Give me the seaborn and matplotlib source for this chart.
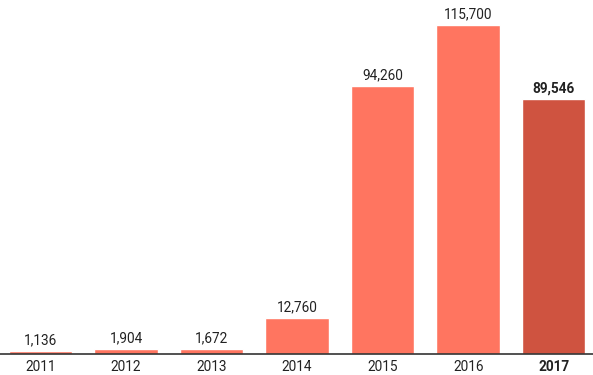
import matplotlib
matplotlib.use("Agg")
import matplotlib.pyplot as plt
import seaborn as sns
import pandas as pd

years = ["2011", "2012", "2013", "2014", "2015", "2016", "2017"]
values = [1136, 1904, 1672, 12760, 94260, 115700, 89546]
light = "#FF7560"
dark = "#CF5340"
colors = [light] * 6 + [dark]

sns.set_style("white")
plt.rcParams['font.family'] = ['Roboto', 'DejaVu Sans']

df = pd.DataFrame({"year": years, "value": values})

fig = plt.figure(figsize=(5.93, 3.75), dpi=100)
ax = fig.add_axes([0, 21 / 375, 1, 354 / 375])
sns.barplot(data=df, x="year", y="value", hue="year", palette=colors,
            legend=False, width=0.74, ax=ax, saturation=1)

ax.set_xlim(-0.474, 6.46)
ax.set_ylim(0, 124500)
for s in ["top", "right", "left"]:
    ax.spines[s].set_visible(False)
ax.spines["bottom"].set_color("#333333")
ax.spines["bottom"].set_linewidth(1.2)
ax.set_yticks([])
ax.set_xlabel("")
ax.set_ylabel("")
ax.tick_params(axis="x", length=0, pad=4, labelsize=9.8, labelcolor="#222222")
for lbl in ax.get_xticklabels():
    if lbl.get_text() == "2017":
        lbl.set_fontweight("bold")

for i, v in enumerate(values):
    ax.annotate(f"{v:,}", (i, v), xytext=(0, 2.5), textcoords="offset points",
                ha="center", va="bottom", fontsize=9.8, color="#222222",
                fontweight="bold" if i == len(values) - 1 else "normal")

fig.savefig("out.png", dpi=100)
